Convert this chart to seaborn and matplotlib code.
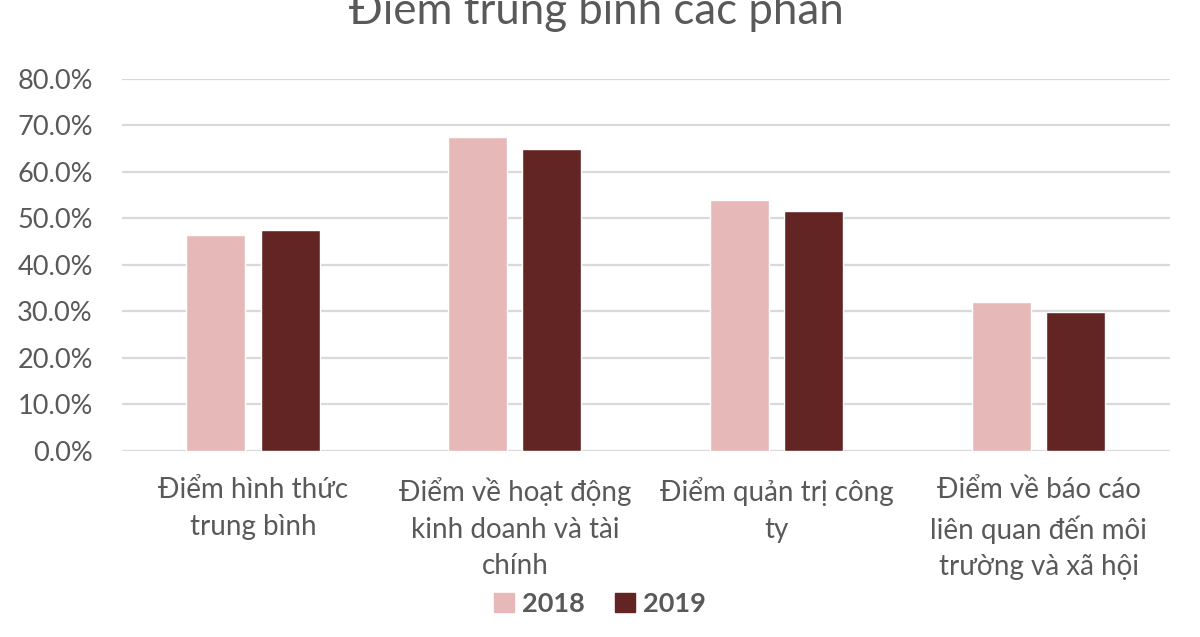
import matplotlib
matplotlib.use("Agg")
import matplotlib.pyplot as plt
import matplotlib.ticker as mticker
import pandas as pd
import seaborn as sns

categories = [
    "Điểm hình thức\ntrung bình",
    "Điểm về hoạt động\nkinh doanh và tài\nchính",
    "Điểm quản trị công\nty",
    "Điểm về báo cáo\nliên quan đến môi\ntrường và xã hội",
]
years = ["2018", "2019"]
values_2018 = [0.465, 0.675, 0.540, 0.320]
values_2019 = [0.475, 0.649, 0.516, 0.299]
yticks = [0.0, 0.1, 0.2, 0.3, 0.4, 0.5, 0.6, 0.7, 0.8]

df = pd.DataFrame({
    "cat": categories * 2,
    "year": [years[0]] * 4 + [years[1]] * 4,
    "val": values_2018 + values_2019,
})

sns.set_theme(style="white")
plt.rcParams["font.family"] = ["Lato", "Open Sans", "DejaVu Sans"]
grey = "#595959"

fig = plt.figure(figsize=(12, 6.37), dpi=100)
ax = fig.add_axes([0.1017, 0.292, 0.873, 0.584])

sns.barplot(data=df, x="cat", y="val", hue="year",
            palette=["#E6B9B8", "#632523"], width=0.566, gap=0.205,
            saturation=1, ax=ax, legend=False, zorder=3)

ax.set_ylim(0, 0.8)
ax.set_yticks(yticks)
ax.yaxis.set_major_formatter(mticker.PercentFormatter(1.0, decimals=1))
ax.grid(axis="y", color="#D9D9D9", linewidth=1.6, zorder=0)
ax.set_axisbelow(True)
for s in ax.spines.values():
    s.set_visible(False)
ax.set_xlabel("")
ax.set_ylabel("")
ax.tick_params(axis="y", labelsize=19.5, labelcolor=grey, length=0, pad=21)
ax.tick_params(axis="x", labelsize=20, labelcolor=grey, length=0, pad=19)
for lbl in ax.get_xticklabels():
    lbl.set_linespacing(1.5)

fig.text(0.497, 0.962, "Điểm trung bình các phần", ha="center",
         va="baseline", fontsize=31.5, color=grey)

handles = [plt.Rectangle((0, 0), 1, 1, color=c) for c in ["#E6B9B8", "#632523"]]
leg = fig.legend(handles, years, loc="center", bbox_to_anchor=(0.5, 0.052),
                 ncol=2, frameon=False, handlelength=0.75, handleheight=0.75,
                 handletextpad=0.3, columnspacing=1.1,
                 prop={"size": 19.5, "weight": "bold"})
for t in leg.get_texts():
    t.set_color(grey)

fig.savefig("out.png", dpi=100)
